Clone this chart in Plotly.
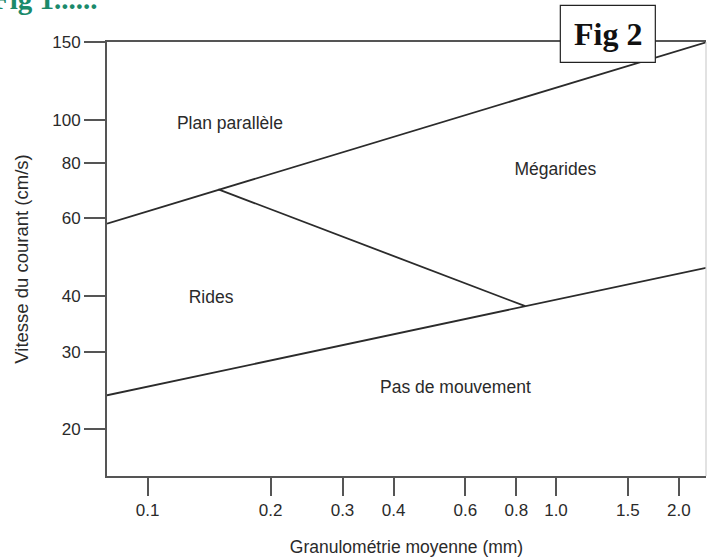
import math
import plotly.graph_objects as go

# ---- data ----
x_range = [0.0795, 2.33]
y_range = [15.7, 150.3]

upper_x = [0.0795, 2.33]
upper_y = [58.4, 150.0]

diag_x = [0.149, 0.841]
diag_y = [69.8, 38.0]

lower_x = [0.0795, 2.33]
lower_y = [23.9, 46.4]

x_ticks = [0.1, 0.2, 0.3, 0.4, 0.6, 0.8, 1.0, 1.5, 2.0]
x_ticktext = ["0.1", "0.2", "0.3", "0.4", "0.6", "0.8", "1.0", "1.5", "2.0"]
y_ticks = [20, 30, 40, 60, 80, 100, 150]
y_ticktext = ["20", "30", "40", "60", "80", "100", "150"]

region_labels = ["Plan parallèle", "Rides", "Mégarides", "Pas de mouvement"]
region_x = [0.159, 0.143, 0.996, 0.567]
region_y = [97.6, 39.5, 77.0, 24.7]

x_title = "Granulométrie moyenne (mm)"
y_title = "Vitesse du courant (cm/s)"

SANS = "Liberation Sans, Arial, sans-serif"
SERIF = "Liberation Serif, Times New Roman, serif"
LINE = "#2b2b2b"
AXIS = "#555555"
TEXT = "#2a2a2a"

fig = go.Figure()
for xs, ys in [(upper_x, upper_y), (diag_x, diag_y), (lower_x, lower_y)]:
    fig.add_trace(go.Scatter(x=xs, y=ys, mode="lines",
                             line=dict(color=LINE, width=1.8),
                             showlegend=False, hoverinfo="skip"))

fig.add_trace(go.Scatter(x=region_x, y=region_y, mode="text", text=region_labels,
                         textfont=dict(family=SANS, size=17.5, color=TEXT),
                         textposition="middle center", showlegend=False,
                         hoverinfo="skip"))

fig.update_layout(
    width=712, height=559,
    margin=dict(l=107, r=6, t=42, b=83),
    paper_bgcolor="white", plot_bgcolor="white",
    font=dict(family=SANS, color=TEXT),
    xaxis=dict(type="log", range=[math.log10(x_range[0]), math.log10(x_range[1])],
               tickvals=x_ticks, ticktext=x_ticktext,
               ticks="outside", ticklen=18, tickwidth=1.6, tickcolor=AXIS,
               showline=True, linecolor=AXIS, linewidth=2, mirror=True,
               showgrid=False, zeroline=False,
               tickfont=dict(family=SANS, size=17, color=TEXT),
               title=dict(text=x_title, font=dict(family=SANS, size=17.5, color=TEXT),
                          standoff=21)),
    yaxis=dict(type="log", range=[math.log10(y_range[0]), math.log10(y_range[1])],
               tickvals=y_ticks, ticktext=y_ticktext,
               ticks="outside", ticklen=21, tickwidth=1.6, tickcolor=AXIS,
               showline=True, linecolor=AXIS, linewidth=2,
               showgrid=False, zeroline=False,
               tickfont=dict(family=SANS, size=17, color=TEXT),
               title=dict(text=y_title, font=dict(family=SANS, size=18.5, color=TEXT),
                          standoff=19)),
)

# light right border
fig.add_shape(type="line", xref="paper", yref="paper", x0=1, x1=1, y0=0, y1=1,
              line=dict(color="#cfcfcf", width=1.2))

# "Fig 2" boxed label
fig.add_shape(type="rect", xref="paper", yref="paper",
              x0=0.7568, x1=0.9154, y0=0.9532, y1=1.0846,
              line=dict(color="#222222", width=1.2), fillcolor="white", layer="above")
fig.add_annotation(xref="paper", yref="paper", x=0.8361, y=1.019,
                   text="<b>Fig 2</b>", showarrow=False,
                   xanchor="center", yanchor="middle",
                   font=dict(family=SERIF, size=32, color="#111111"))

# cut-off header at top-left
fig.add_annotation(xref="paper", yref="paper", x=-0.0112, y=1.100,
                   text="<b>Fig 1......</b>", showarrow=False,
                   xanchor="right", yanchor="middle",
                   font=dict(family=SERIF, size=29, color="#1b8a6b"))

fig.write_html("out.html")
